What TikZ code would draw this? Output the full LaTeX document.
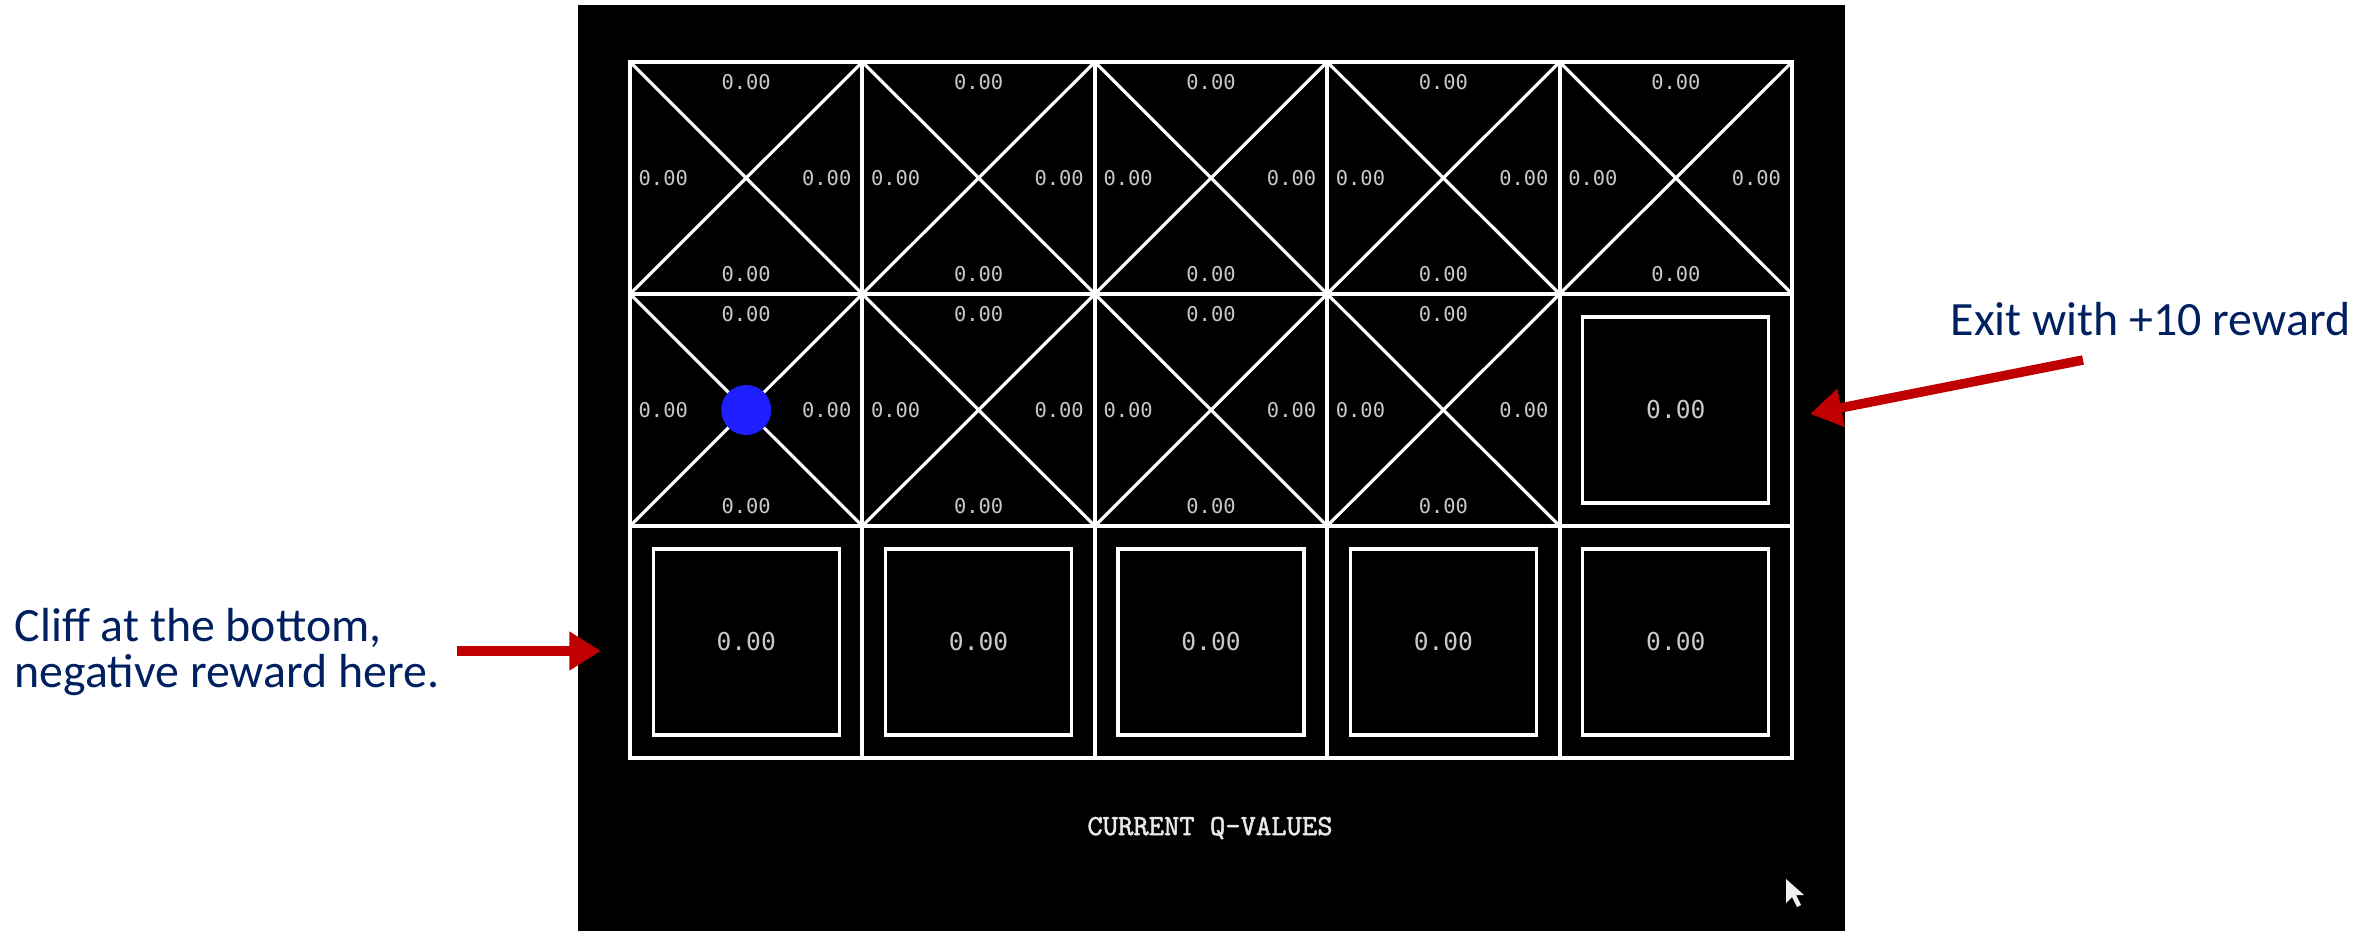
\documentclass[tikz,border=0pt]{standalone}
\usepackage{fontspec}
\setmainfont{Carlito}
\newfontfamily\gridfont{DejaVu Sans Mono}
\newfontfamily\capfont{lmmono10-regular.otf}[FakeBold=1.6]
\usetikzlibrary{arrows.meta, positioning}
\definecolor{navytext}{HTML}{002060}
\definecolor{arrowred}{HTML}{C00000}
\definecolor{qgray}{HTML}{C8C8C8}
\definecolor{agentblue}{HTML}{1E1EFF}
\tikzset{
	gridline/.style={draw=white, line width=1.1pt},
	diagline/.style={draw=white, line width=0.9pt},
	exitbox/.style={draw=white, line width=0.9pt, minimum size=1.86cm, inner sep=0pt, font=\gridfont\fontsize{7}{8}\selectfont, text=qgray},
	qlabel/.style={font=\gridfont\fontsize{5.8}{7}\selectfont, text=qgray, inner sep=0pt},
	notetext/.style={font=\fontsize{13.6}{13}\selectfont, text=navytext, align=left, inner sep=0pt},
	notearr/.style={draw=arrowred, line width=2.7pt, -{Triangle[length=9pt, width=10.5pt]}},
}

\begin{document}
\begin{tikzpicture}[x=0.01cm, y=-0.01cm]
	\useasboundingbox (0,0) rectangle (2379,931);
	\fill[white] (0,0) rectangle (2379,931);
	\fill[black] (578,5) rectangle (1845,931);
	% cell centres
	\foreach \c in {0,...,4} {
		\foreach \r in {0,1,2} {
			\coordinate (c\c r\r) at ({746.2+232.4*\c}, {178+232*\r});
		}
	}
	% grid
	\draw[gridline] (630,62) rectangle (1792,758);
	\foreach \x in {862.4,1094.8,1327.2,1559.6} \draw[gridline] (\x,62) -- (\x,758);
	\foreach \y in {294,526} \draw[gridline] (630,\y) -- (1792,\y);
	% open cells with four q-values
	\foreach \c/\r in {0/0,1/0,2/0,3/0,4/0,0/1,1/1,2/1,3/1} {
		\pgfmathsetmacro\xl{630+232.4*\c}
		\pgfmathsetmacro\yt{62+232*\r}
		\draw[diagline] (\xl,\yt) -- ({\xl+232.4},{\yt+232});
		\draw[diagline] (\xl,{\yt+232}) -- ({\xl+232.4},\yt);
		\node[qlabel] (q\c\r n) at ({\xl+116.2},{\yt+20}) {0.00};
		\node[qlabel] (q\c\r s) at ({\xl+116.2},{\yt+212}) {0.00};
		\node[qlabel, anchor=west] (q\c\r w) at ({\xl+8},{\yt+116}) {0.00};
		\node[qlabel, anchor=east] (q\c\r e) at ({\xl+222},{\yt+116}) {0.00};
	}
	% exit cells
	\foreach \c in {0,...,4} \node[exitbox] (exit\c) at (c\c r2) {0.00};
	\node[exitbox] (exitgoal) at (c4r1) {0.00};
	\node[circle, fill=agentblue, minimum size=0.5cm, inner sep=0pt] (agent) at (c0r1) {};
	\node[font=\capfont\fontsize{8.3}{10}\selectfont, text=white!82!gray] (caption) at (1210,828) {CURRENT Q-VALUES};
	% mouse pointer
	\fill[white!88!gray] (1786,879) -- (1786,903) -- (1792,897) -- (1797,907) -- (1801,905) -- (1796,895) -- (1804,895) -- cycle;
	% notes
	\node[notetext, anchor=base west] (cliffnote) at (14,687) {Cliff at the bottom,\\negative reward here.};
	\node[notetext, anchor=base west] (exitnote) at (1950,336) {Exit with +10 reward};
	\coordinate (cliffTail) at (457,651);
	\coordinate (cliffTip) at (601,651);
	\coordinate (exitTail) at (2083,360);
	\coordinate (exitTip) at (1810,414);
	\draw[notearr] (cliffTail) -- (cliffTip);
	\draw[notearr] (exitTail) -- (exitTip);
\end{tikzpicture}
\end{document}
